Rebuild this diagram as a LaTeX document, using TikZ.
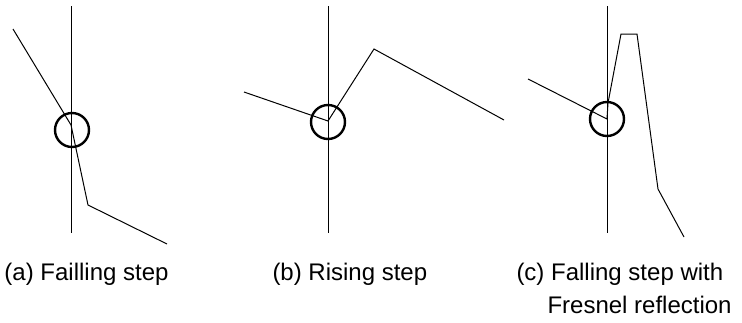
\documentclass[tikz,border=0pt]{standalone}
\usepackage{fontspec}
\setmainfont{Liberation Sans}
\usetikzlibrary{positioning}

\begin{document}
\begin{tikzpicture}[x=1pt,y=-1pt,line width=1pt]
\useasboundingbox (0,0) rectangle (742,322);
\tikzset{axis/.style={line width=1pt},
  ring/.style={circle,draw,line width=2.4pt,minimum size=34pt,inner sep=0pt},
  caption/.style={anchor=base west,inner sep=0pt,font=\fontsize{24}{28}\selectfont}}
% (a) falling step
\coordinate (a top) at (71,6);
\coordinate (a bot) at (71,233);
\coordinate (a1) at (13,29);
\coordinate (a2) at (71,125);
\coordinate (a3) at (88,205);
\coordinate (a4) at (167,244);
\node[ring] (a ring) at (72,130) {};
\draw [axis] (a top) -- (a bot);
\draw (a1) -- (a2) -- (a3) -- (a4);
\node[caption] (a cap) at (4,280) {(a) Failling step};
% (b) rising step
\coordinate (b top) at (328,6);
\coordinate (b bot) at (328,233);
\coordinate (b1) at (244,92);
\coordinate (b2) at (328,121);
\coordinate (b3) at (374,49);
\coordinate (b4) at (504,120);
\node[ring] (b ring) at (328,122) {};
\draw [axis] (b top) -- (b bot);
\draw (b1) -- (b2) -- (b3) -- (b4);
\node[caption] (b cap) at (272,280) {(b) Rising step};
% (c) falling step with Fresnel reflection
\coordinate (c top) at (607,6);
\coordinate (c bot) at (607,233);
\coordinate (c1) at (528,79);
\coordinate (c2) at (607,119);
\coordinate (c3) at (608,103);
\coordinate (c4) at (621,34);
\coordinate (c5) at (637,34);
\coordinate (c6) at (658,189);
\coordinate (c7) at (684,237);
\node[ring] (c ring) at (607,119) {};
\draw [axis] (c top) -- (c bot);
\draw (c1) -- (c2) -- (c3) -- (c4) -- (c5) -- (c6) -- (c7);
\node[caption] (c cap) at (516,280) {(c) Falling step with};
\node[caption] (c cap2) at (547,313) {Fresnel reflection};
\end{tikzpicture}
\end{document}
